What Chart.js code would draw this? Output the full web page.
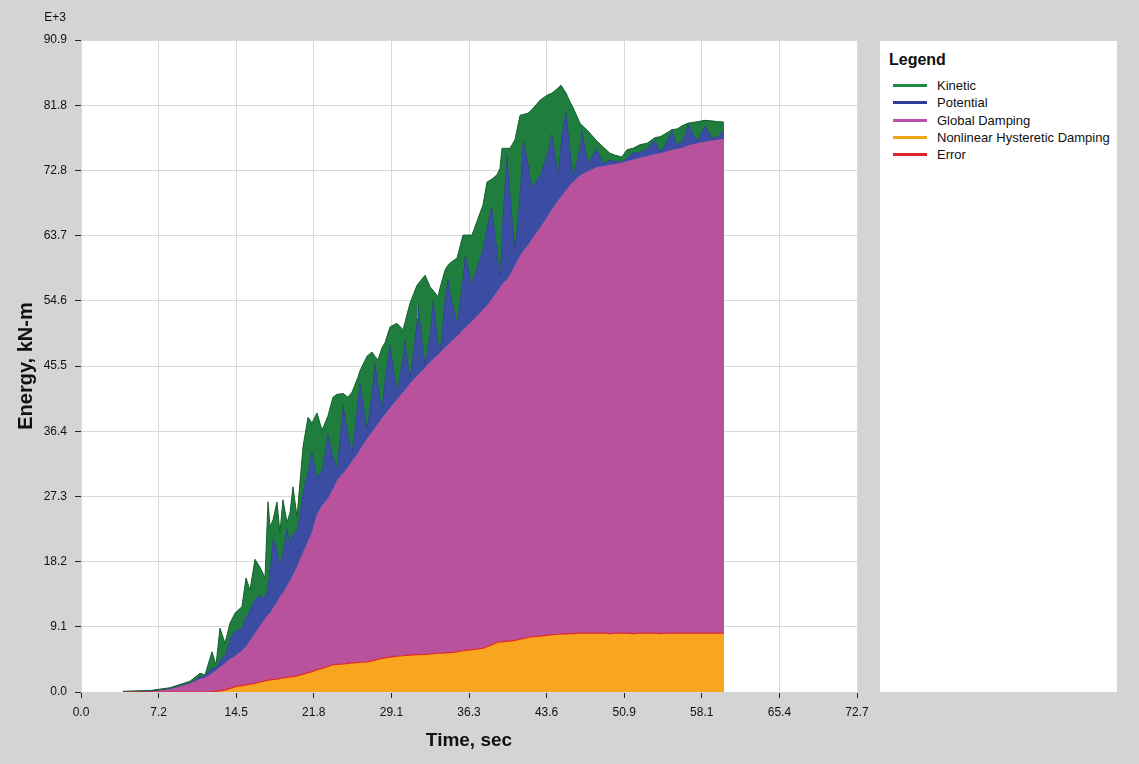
<!DOCTYPE html>
<html>
<head>
<meta charset="utf-8">
<title>Energy vs Time</title>
<script src="https://cdn.jsdelivr.net/npm/chart.js@4/dist/chart.umd.min.js"></script>
<style>
    body {
        margin: 0;
        background: #d4d4d4;
        font-family: 'Liberation Sans', Arial, sans-serif;
    }
    #wrap {
        position: relative;
        width: 1139px;
        height: 764px;
    }
    #energyChart {
        position: absolute;
        left: 0;
        top: 0;
    }
    #legend {
        position: absolute;
        left: 880px;
        top: 41px;
        width: 237px;
        height: 651px;
        background: #fff;
    }
    #legend .title {
        position: absolute;
        left: 9px;
        top: 10px;
        font-size: 16px;
        font-weight: bold;
        color: #111;
    }
    #legend ul {
        position: absolute;
        left: 0;
        top: 36px;
        margin: 0;
        padding: 0;
        list-style: none;
    }
    #legend li {
        height: 17.3px;
        display: flex;
        align-items: center;
        font-size: 13px;
        color: #111;
        white-space: nowrap;
    }
    #legend .swatch {
        display: inline-block;
        width: 34px;
        height: 3px;
        margin-left: 13px;
        margin-right: 10px;
    }
</style>
</head>
<body>
<div id="wrap">
    <canvas id="energyChart" width="880" height="764"></canvas>
    <div id="legend">
        <div class="title">Legend</div>
        <ul id="legendItems"></ul>
    </div>
</div>

<script>
// Time, sec
const time = [3.93, 6.46, 8.34, 10.21, 11.15, 11.62, 12.27, 12.65, 13.02, 13.49, 13.96, 14.43, 15.08, 15.46, 15.83, 16.30, 16.77, 17.24, 17.52, 17.71, 17.99, 18.36, 18.64, 18.92, 19.30, 19.58, 19.86, 20.24, 20.80, 21.27, 21.64, 22.11, 22.58, 23.14, 23.61, 23.98, 24.55, 25.01, 25.39, 25.95, 26.14, 26.79, 27.26, 27.54, 27.82, 28.20, 28.48, 28.95, 29.60, 30.17, 30.35, 30.82, 31.48, 31.57, 32.23, 32.70, 32.98, 33.45, 33.63, 34.10, 34.38, 34.57, 35.23, 35.79, 35.98, 36.63, 37.66, 38.04, 38.50, 38.97, 39.25, 39.44, 39.91, 40.19, 40.66, 41.13, 41.41, 41.88, 42.25, 43.00, 43.66, 44.13, 44.69, 44.97, 45.44, 45.81, 46.09, 46.75, 46.94, 47.50, 48.34, 48.90, 49.56, 50.12, 50.68, 51.15, 51.71, 52.37, 53.03, 53.78, 54.24, 54.71, 55.37, 55.84, 56.40, 56.86, 57.71, 58.46, 59.21, 59.68, 60.05, 60.24];

// Energies are stacked: each array is the top of its band (E+3 kN-m)
const kineticLevel = [0.1, 0.2, 0.6, 1.5, 2.6, 2.4, 5.6, 3.8, 8.9, 6.8, 9.6, 11.0, 11.9, 15.9, 14.2, 18.5, 17.4, 15.9, 26.5, 23.0, 24.0, 26.5, 22.2, 26.8, 23.6, 25.0, 28.6, 24.4, 34.2, 38.3, 37.5, 38.9, 36.5, 38.5, 41.1, 41.5, 41.6, 41.1, 41.8, 43.9, 44.8, 46.8, 47.4, 46.8, 46.3, 48.0, 48.7, 50.9, 51.4, 50.5, 51.5, 54.2, 56.7, 56.7, 58.1, 56.5, 56.0, 55.1, 56.3, 58.8, 59.5, 59.8, 60.5, 63.7, 63.7, 63.7, 67.9, 71.1, 71.5, 72.1, 73.0, 75.8, 75.8, 75.8, 77.0, 80.4, 80.5, 80.7, 81.2, 82.5, 83.2, 83.5, 84.2, 84.6, 83.5, 82.3, 81.5, 79.3, 79.0, 78.2, 76.8, 76.0, 75.1, 74.8, 74.6, 75.6, 75.8, 76.3, 76.5, 77.3, 77.4, 77.8, 78.4, 78.5, 79.0, 79.3, 79.5, 79.7, 79.6, 79.5, 79.5, 79.4];
const potentialLevel = [0.05, 0.15, 0.5, 1.3, 2.2, 2.3, 3.5, 3.3, 4.5, 5.2, 7.5, 8.5, 9.0, 10.5, 11.5, 13.0, 13.5, 13.2, 15.0, 17.5, 21.6, 20.0, 18.0, 19.5, 23.0, 21.0, 22.0, 22.6, 28.0, 31.0, 33.7, 30.0, 31.0, 36.1, 33.0, 31.4, 40.3, 36.0, 33.7, 41.0, 43.5, 36.9, 42.0, 46.3, 43.0, 39.7, 44.0, 48.7, 42.1, 47.0, 49.5, 43.9, 52.0, 54.4, 45.9, 50.0, 55.1, 49.0, 47.7, 55.0, 57.9, 56.0, 51.6, 58.0, 61.3, 57.0, 62.0, 65.0, 67.9, 62.0, 58.1, 65.0, 75.6, 70.0, 61.9, 70.0, 77.2, 74.0, 70.4, 72.0, 75.0, 78.1, 72.4, 77.0, 81.4, 76.0, 72.1, 76.0, 78.6, 73.8, 75.8, 73.7, 74.2, 74.0, 74.0, 74.5, 75.2, 75.3, 75.8, 77.0, 75.4, 76.3, 78.4, 76.3, 77.0, 79.3, 76.9, 79.0, 77.2, 77.6, 78.1, 78.0];
const dampingLevel = [0.0, 0.1, 0.4, 1.2, 1.8, 2.0, 2.6, 3.0, 3.5, 4.0, 4.6, 5.0, 5.8, 6.3, 7.2, 8.2, 9.2, 10.2, 10.8, 11.0, 11.7, 12.5, 13.3, 13.8, 14.8, 15.5, 16.3, 17.5, 19.5, 21.0, 22.3, 24.8, 26.0, 27.0, 28.3, 29.5, 30.5, 31.3, 32.2, 33.3, 33.8, 35.3, 36.2, 36.8, 37.4, 38.2, 38.7, 39.6, 40.8, 41.8, 42.1, 43.0, 44.1, 44.2, 45.2, 46.0, 46.4, 47.0, 47.3, 48.0, 48.4, 48.7, 49.6, 50.5, 50.8, 51.7, 53.3, 53.9, 54.8, 55.8, 56.4, 56.8, 57.5, 58.2, 59.5, 60.8, 61.5, 62.3, 63.2, 64.7, 66.2, 67.3, 68.5, 69.0, 70.0, 70.6, 71.1, 72.0, 72.2, 72.6, 73.2, 73.3, 73.5, 73.6, 73.8, 74.0, 74.2, 74.5, 74.7, 75.0, 75.1, 75.3, 75.6, 75.7, 75.9, 76.2, 76.5, 76.7, 76.9, 77.0, 77.1, 77.1];
const hystereticLevel = [0, 0, 0, 0, 0, 0, 0.05, 0.1, 0.15, 0.3, 0.5, 0.75, 0.9, 1.0, 1.1, 1.2, 1.4, 1.55, 1.65, 1.7, 1.75, 1.8, 1.9, 1.95, 2.05, 2.1, 2.15, 2.25, 2.5, 2.7, 2.85, 3.1, 3.3, 3.55, 3.8, 3.85, 3.9, 4.0, 4.05, 4.1, 4.15, 4.2, 4.35, 4.45, 4.55, 4.7, 4.75, 4.85, 5.0, 5.05, 5.1, 5.15, 5.2, 5.2, 5.25, 5.3, 5.35, 5.4, 5.4, 5.45, 5.5, 5.5, 5.6, 5.75, 5.8, 5.9, 6.1, 6.3, 6.6, 6.9, 7.0, 7.0, 7.1, 7.1, 7.2, 7.35, 7.45, 7.6, 7.7, 7.8, 7.9, 8.0, 8.05, 8.1, 8.1, 8.15, 8.15, 8.2, 8.2, 8.2, 8.2, 8.2, 8.15, 8.2, 8.2, 8.2, 8.15, 8.2, 8.2, 8.2, 8.15, 8.2, 8.2, 8.2, 8.2, 8.2, 8.2, 8.2, 8.2, 8.2, 8.2, 8.2];
// Error energy is ~0, so its level sits on the hysteretic band
const errorLevel = hystereticLevel;

const xTickValues = [0, 7.27, 14.54, 21.81, 29.08, 36.35, 43.62, 50.89, 58.16, 65.43, 72.7];
const xTickLabels = ['0.0', '7.2', '14.5', '21.8', '29.1', '36.3', '43.6', '50.9', '58.1', '65.4', '72.7'];
const yTickValues = [0, 9.09, 18.18, 27.27, 36.36, 45.45, 54.54, 63.63, 72.72, 81.81, 90.9];
const yTickLabels = ['0.0', '9.1', '18.2', '27.3', '36.4', '45.5', '54.6', '63.7', '72.8', '81.8', '90.9'];

const EnergyChart = (function() {
    'use strict';

    const FONT = "'Liberation Sans', Arial, sans-serif";

    const COLORS = {
        kinetic: '#1f7d3d',
        kineticEdge: '#165f2d',
        potential: '#3a4da3',
        potentialEdge: '#27377f',
        damping: '#b8529d',
        hysteretic: '#f8a51f',
        error: '#e0262e',
        grid: '#d9d9d9',
        tick: '#222'
    };

    const LEGEND_COLORS = ['#218a44', '#2f3f99', '#bd4fae', '#f2a51b', '#d6252c'];

    function points(levels) {
        return time.map((t, i) => ({ x: t, y: levels[i] }));
    }

    // White plot area + "E+3" multiplier above the y axis
    const plotBackground = {
        id: 'plotBackground',
        beforeDraw(chart) {
            const { ctx, chartArea: a } = chart;
            ctx.save();
            ctx.fillStyle = '#fff';
            ctx.fillRect(a.left, a.top, a.right - a.left, a.bottom - a.top);
            ctx.restore();
        },
        afterDraw(chart) {
            const ctx = chart.ctx;
            ctx.save();
            ctx.font = '12px ' + FONT;
            ctx.fillStyle = '#111';
            ctx.textAlign = 'center';
            ctx.textBaseline = 'middle';
            ctx.fillText('E+3', 55, 18);
            ctx.restore();
        }
    };

    function init() {
        const ctx = document.getElementById('energyChart');

        const chart = new Chart(ctx, {
            type: 'line',
            data: {
                datasets: [
                    {
                        label: 'Kinetic',
                        data: points(kineticLevel),
                        backgroundColor: COLORS.kinetic,
                        borderColor: COLORS.kineticEdge,
                        borderWidth: 1,
                        fill: 1
                    },
                    {
                        label: 'Potential',
                        data: points(potentialLevel),
                        backgroundColor: COLORS.potential,
                        borderColor: COLORS.potentialEdge,
                        borderWidth: 1,
                        fill: 2
                    },
                    {
                        label: 'Global Damping',
                        data: points(dampingLevel),
                        backgroundColor: COLORS.damping,
                        borderColor: COLORS.damping,
                        borderWidth: 1,
                        fill: 3
                    },
                    {
                        label: 'Nonlinear Hysteretic Damping',
                        data: points(hystereticLevel),
                        backgroundColor: COLORS.hysteretic,
                        borderColor: COLORS.hysteretic,
                        borderWidth: 0,
                        fill: 'origin'
                    },
                    {
                        label: 'Error',
                        data: points(errorLevel),
                        borderColor: COLORS.error,
                        borderWidth: 1.2,
                        fill: false,
                        order: -1
                    }
                ]
            },
            options: {
                responsive: false,
                animation: false,
                events: [],
                elements: {
                    point: { radius: 0 },
                    line: { tension: 0 }
                },
                layout: {
                    padding: { top: 40, right: 23, left: 0, bottom: 0 }
                },
                plugins: {
                    legend: { display: false },
                    tooltip: { enabled: false }
                },
                scales: {
                    x: {
                        type: 'linear',
                        min: 0,
                        max: 72.7,
                        afterBuildTicks: scale => {
                            scale.ticks = xTickValues.map(v => ({ value: v }));
                        },
                        afterFit: scale => { scale.height = 72; },
                        grid: {
                            color: COLORS.grid,
                            tickColor: COLORS.tick,
                            tickLength: 6
                        },
                        border: { color: COLORS.grid },
                        ticks: {
                            autoSkip: false,
                            maxRotation: 0,
                            padding: 7,
                            color: '#111',
                            font: { family: FONT, size: 12 },
                            callback: (value, index) => xTickLabels[index]
                        },
                        title: {
                            display: true,
                            text: 'Time, sec',
                            color: '#111',
                            font: { family: FONT, size: 19, weight: 'bold' },
                            padding: { top: 0, bottom: 12 }
                        }
                    },
                    y: {
                        min: 0,
                        max: 90.9,
                        afterBuildTicks: scale => {
                            scale.ticks = yTickValues.map(v => ({ value: v }));
                        },
                        afterFit: scale => { scale.width = 81; },
                        grid: {
                            color: COLORS.grid,
                            tickColor: COLORS.tick,
                            tickLength: 6
                        },
                        border: { color: COLORS.grid },
                        ticks: {
                            autoSkip: false,
                            padding: 8,
                            color: '#111',
                            font: { family: FONT, size: 12 },
                            callback: (value, index) => yTickLabels[index]
                        },
                        title: {
                            display: true,
                            text: 'Energy, kN-m',
                            color: '#111',
                            font: { family: FONT, size: 20, weight: 'bold' },
                            padding: { top: 14, bottom: 0 }
                        }
                    }
                }
            },
            plugins: [plotBackground]
        });

        buildLegend(chart);
    }

    function buildLegend(chart) {
        const list = document.getElementById('legendItems');
        chart.data.datasets.forEach((ds, i) => {
            const li = document.createElement('li');
            const swatch = document.createElement('span');
            swatch.className = 'swatch';
            swatch.style.background = LEGEND_COLORS[i];
            li.appendChild(swatch);
            li.appendChild(document.createTextNode(ds.label));
            list.appendChild(li);
        });
    }

    return { init: init, COLORS: COLORS };
})();

EnergyChart.init();
</script>
</body>
</html>
